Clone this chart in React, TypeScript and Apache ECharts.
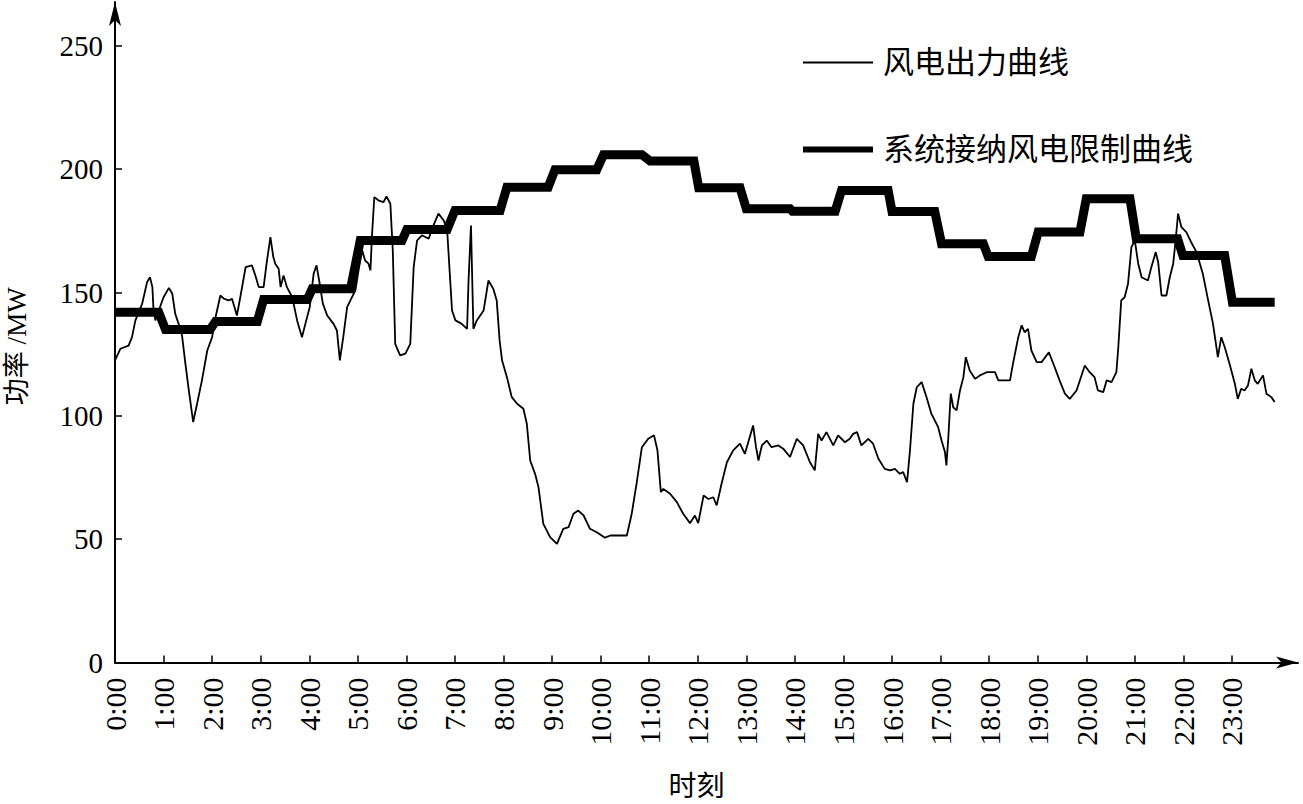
import React, { useEffect, useRef } from "react";
import * as echarts from "echarts";

// X axis ticks (hours) and their labels
const xTickHours = [0, 1, 2, 3, 4, 5, 6, 7, 8, 9, 10, 11, 12, 13, 14, 15, 16, 17, 18, 19, 20, 21, 22, 23];
const xTickLabels = [
  "0:00", "1:00", "2:00", "3:00", "4:00", "5:00", "6:00", "7:00", "8:00", "9:00", "10:00", "11:00",
  "12:00", "13:00", "14:00", "15:00", "16:00", "17:00", "18:00", "19:00", "20:00", "21:00", "22:00", "23:00",
];
const yTickValues = [0, 50, 100, 150, 200, 250];

const seriesNames = ["风电出力曲线", "系统接纳风电限制曲线"];

// Wind power output curve (hour, MW)
const windTimes = [
  0, 0.11, 0.28, 0.35, 0.42, 0.56, 0.66, 0.72, 0.77, 0.79, 0.83, 0.9, 1.0, 1.11, 1.18, 1.24, 1.31, 1.38, 1.45, 1.52,
  1.61, 1.69, 1.79, 1.9, 2.0, 2.07, 2.17, 2.24, 2.34, 2.41, 2.51, 2.58, 2.69, 2.82, 2.89, 2.96, 3.06, 3.13, 3.2, 3.26,
  3.3, 3.37, 3.41, 3.47, 3.54, 3.65, 3.75, 3.85, 3.92, 4.01, 4.09, 4.15, 4.21, 4.28, 4.37, 4.5, 4.57, 4.63, 4.7, 4.78,
  4.88, 4.95, 5.02, 5.09, 5.15, 5.22, 5.26, 5.29, 5.34, 5.43, 5.53, 5.59, 5.67, 5.72, 5.77, 5.87, 5.98, 6.08, 6.15, 6.22,
  6.32, 6.46, 6.53, 6.66, 6.77, 6.84, 6.94, 7.01, 7.14, 7.25, 7.28, 7.33, 7.38, 7.45, 7.59, 7.69, 7.79, 7.86, 7.92, 7.97,
  8.07, 8.17, 8.28, 8.41, 8.48, 8.55, 8.65, 8.72, 8.82, 8.96, 9.1, 9.23, 9.34, 9.44, 9.54, 9.65, 9.78, 9.92, 10.09, 10.2,
  10.54, 10.64, 10.74, 10.85, 10.98, 11.1, 11.17, 11.24, 11.29, 11.43, 11.57, 11.7, 11.84, 11.94, 12.01, 12.12, 12.22,
  12.32, 12.39, 12.49, 12.6, 12.73, 12.87, 12.97, 13.04, 13.14, 13.2, 13.25, 13.32, 13.42, 13.52, 13.66, 13.76, 13.9,
  14.04, 14.17, 14.31, 14.41, 14.48, 14.55, 14.65, 14.79, 14.89, 15.03, 15.13, 15.2, 15.28, 15.37, 15.51, 15.61, 15.72,
  15.85, 15.96, 16.06, 16.16, 16.23, 16.31, 16.37, 16.44, 16.51, 16.61, 16.71, 16.81, 16.95, 17.02, 17.09, 17.12, 17.16,
  17.21, 17.26, 17.33, 17.4, 17.47, 17.52, 17.6, 17.71, 17.81, 17.95, 18.12, 18.19, 18.43, 18.49, 18.6, 18.67, 18.73,
  18.8, 18.87, 18.98, 19.08, 19.23, 19.35, 19.45, 19.56, 19.66, 19.8, 19.97, 20.07, 20.17, 20.24, 20.35, 20.42, 20.52,
  20.62, 20.66, 20.72, 20.79, 20.86, 20.93, 21.0, 21.07, 21.14, 21.27, 21.34, 21.43, 21.48, 21.55, 21.65, 21.72, 21.79,
  21.84, 21.89, 21.96, 22.06, 22.16, 22.27, 22.4, 22.51, 22.61, 22.71, 22.78, 22.85, 22.95, 23.06, 23.12, 23.19, 23.26,
  23.33, 23.4, 23.47, 23.53, 23.64, 23.71, 23.81, 23.88,
];
const windValues = [
  122.5, 127.2, 128.5, 131.9, 138.7, 145.5, 154.2, 156.2, 152.2, 144.1, 138.7, 142.7, 148.1, 151.9, 149.5, 141.4, 137.3,
  132.6, 121.1, 110.3, 97.5, 104.9, 114.4, 126.5, 131.9, 140.0, 148.8, 147.5, 146.8, 147.5, 140.7, 148.1, 160.3, 161.0,
  156.9, 152.2, 152.2, 163.0, 172.5, 164.4, 161.7, 159.6, 152.2, 156.9, 152.2, 148.1, 138.7, 131.9, 137.3, 144.1, 157.6,
  161.0, 154.2, 145.5, 140.7, 137.3, 134.6, 122.5, 131.9, 144.1, 148.1, 150.9, 159.6, 167.1, 163.0, 161.7, 159.0, 172.5,
  188.7, 187.3, 186.7, 189.0, 186.0, 167.1, 129.2, 124.5, 125.2, 129.2, 160.3, 171.1, 173.2, 171.8, 175.9, 182.0, 179.2,
  175.2, 142.7, 138.7, 137.3, 135.3, 154.9, 177.2, 135.3, 138.7, 142.7, 154.9, 151.5, 146.8, 130.6, 122.5, 115.7, 107.6,
  104.9, 102.9, 96.8, 81.9, 76.5, 71.1, 56.2, 50.8, 48.1, 54.2, 54.9, 60.3, 61.6, 59.6, 54.2, 52.8, 50.6, 51.5, 51.5,
  60.3, 72.5, 87.3, 90.7, 92.1, 86.0, 69.1, 70.4, 68.4, 65.0, 60.3, 56.5, 59.6, 56.5, 67.7, 66.3, 67.0, 63.7, 72.5, 81.2,
  86.0, 88.7, 84.6, 89.3, 96.1, 87.3, 81.9, 88.0, 90.0, 87.3, 88.0, 86.7, 83.3, 90.7, 88.0, 81.2, 77.9, 92.7, 90.0, 93.4,
  88.0, 92.1, 89.3, 90.7, 92.7, 93.4, 88.0, 90.7, 88.7, 82.6, 78.5, 77.9, 78.5, 76.5, 77.2, 73.1, 86.0, 104.9, 111.6,
  113.7, 107.6, 100.9, 95.4, 90.0, 85.3, 79.9, 91.4, 109.0, 103.5, 102.2, 110.3, 115.7, 123.8, 118.4, 115.0, 116.4, 117.7,
  117.7, 114.4, 114.4, 121.1, 131.9, 136.7, 133.9, 135.3, 126.5, 121.8, 121.8, 125.8, 119.7, 114.4, 109.0, 106.9, 110.3,
  120.4, 117.7, 115.7, 110.3, 109.6, 114.4, 113.7, 117.7, 127.9, 146.8, 148.1, 153.6, 168.4, 171.1, 161.7, 156.2, 154.9,
  160.3, 166.4, 162.4, 148.8, 148.8, 156.2, 161.7, 171.1, 182.0, 176.5, 174.5, 170.4, 166.4, 157.6, 146.8, 137.3, 123.8,
  131.9, 127.9, 121.1, 113.0, 106.9, 111.0, 110.3, 112.3, 119.1, 114.4, 113.0, 116.4, 109.0, 107.6, 105.6,
];

// System wind acceptance limit curve (hour, MW)
const limitTimes = [
  0, 0.9, 1.04, 1.96, 2.07, 2.93, 3.06, 3.96, 4.06, 4.85, 5.05, 5.91, 6.01, 6.84, 7.0, 7.93, 8.07, 8.92, 9.06, 9.92,
  10.06, 10.85, 11.02, 11.92, 12.02, 12.87, 13.0, 13.9, 13.95, 14.83, 14.96, 15.92, 16.0, 16.88, 17.02, 17.88, 17.98,
  18.87, 19.01, 19.87, 20.0, 20.9, 21.03, 21.88, 21.99, 22.85, 23.01, 23.88,
];
const limitValues = [
  142, 142, 135, 135, 138.3, 138.3, 147.2, 147.2, 151.5, 151.5, 171.1, 171.1, 175.6, 175.6, 183.3, 183.3, 192.7, 192.7,
  199.8, 199.8, 205.9, 205.9, 203.3, 203.3, 192.5, 192.5, 184, 184, 183, 183, 191.4, 191.4, 182.9, 182.9, 169.8, 169.8,
  164.6, 164.6, 174.5, 174.5, 188, 188, 171.8, 171.8, 165, 165, 146.1, 146.1,
];

const SERIF = "'Liberation Serif', 'Times New Roman', 'Noto Sans CJK SC', serif";

export default function App() {
  const ref = useRef<HTMLDivElement>(null);

  useEffect(() => {
    if (!ref.current) return;
    const chart = echarts.init(ref.current, null, { renderer: "svg" });
    const windData = windTimes.map((t, i) => [t, windValues[i]]);
    const limitData = limitTimes.map((t, i) => [t, limitValues[i]]);

    chart.setOption({
      animation: false,
      backgroundColor: "#ffffff",
      grid: {
        left: 115,
        right: 5,
        top: 2,
        bottom: 141.5,
        containLabel: false,
        outerBoundsMode: "none",
      },
      legend: {
        orient: "vertical",
        left: 803,
        top: 47,
        itemWidth: 70,
        itemHeight: 14,
        itemGap: 56,
        padding: 0,
        data: [
          { name: seriesNames[0], icon: "path://M0,0L70,0L70,2L0,2Z" },
          { name: seriesNames[1], icon: "path://M0,0L70,0L70,6L0,6Z" },
        ],
        itemStyle: { color: "#000", borderWidth: 0 },
        textStyle: {
          fontFamily: SERIF,
          fontSize: 31,
          lineHeight: 30,
          color: "#000",
          padding: [0, 0, 0, 5],
        },
      },
      xAxis: {
        type: "value",
        min: 0,
        max: 24.36,
        name: "时刻",
        nameLocation: "middle",
        nameGap: 110,
        nameTextStyle: { fontFamily: SERIF, fontSize: 28, color: "#000", padding: [0, 20, 0, 0] },
        axisLine: {
          show: true,
          symbol: ["none", "arrow"],
          symbolSize: [9, 22],
          lineStyle: { color: "#000", width: 2 },
        },
        axisTick: {
          show: true,
          inside: true,
          length: 7,
          customValues: xTickHours,
          lineStyle: { color: "#000", width: 1.5 },
        },
        axisLabel: {
          show: true,
          rotate: 90,
          margin: 15,
          customValues: xTickHours,
          formatter: (v: number) => xTickLabels[xTickHours.indexOf(v)] ?? "",
          fontFamily: SERIF,
          fontSize: 30,
          color: "#000",
        },
        splitLine: { show: false },
      },
      yAxis: {
        type: "value",
        min: 0,
        max: 267.8,
        name: "功率 /MW",
        nameLocation: "middle",
        nameRotate: 90,
        nameGap: 85,
        nameTextStyle: {
          fontFamily: SERIF,
          fontSize: 27,
          lineHeight: 27,
          color: "#000",
          padding: [0, 28, 0, 0],
        },
        axisLine: {
          show: true,
          symbol: ["none", "arrow"],
          symbolSize: [9, 24],
          lineStyle: { color: "#000", width: 2 },
        },
        axisTick: {
          show: true,
          inside: true,
          length: 7,
          customValues: yTickValues,
          lineStyle: { color: "#000", width: 1.5 },
        },
        axisLabel: {
          show: true,
          margin: 12,
          customValues: yTickValues,
          fontFamily: SERIF,
          fontSize: 29,
          color: "#000",
        },
        splitLine: { show: false },
      },
      series: [
        {
          name: seriesNames[0],
          type: "line",
          data: windData,
          showSymbol: false,
          symbol: "none",
          lineStyle: { color: "#000", width: 1.8 },
          itemStyle: { color: "#000" },
          z: 3,
        },
        {
          name: seriesNames[1],
          type: "line",
          data: limitData,
          showSymbol: false,
          symbol: "none",
          lineStyle: { color: "#000", width: 9, join: "miter" },
          itemStyle: { color: "#000" },
          z: 2,
        },
      ],
    });

    return () => chart.dispose();
  }, []);

  return (
    <div
      ref={ref}
      style={{ position: "fixed", left: 0, top: 0, width: 1303, height: 804, background: "#fff" }}
    />
  );
}
